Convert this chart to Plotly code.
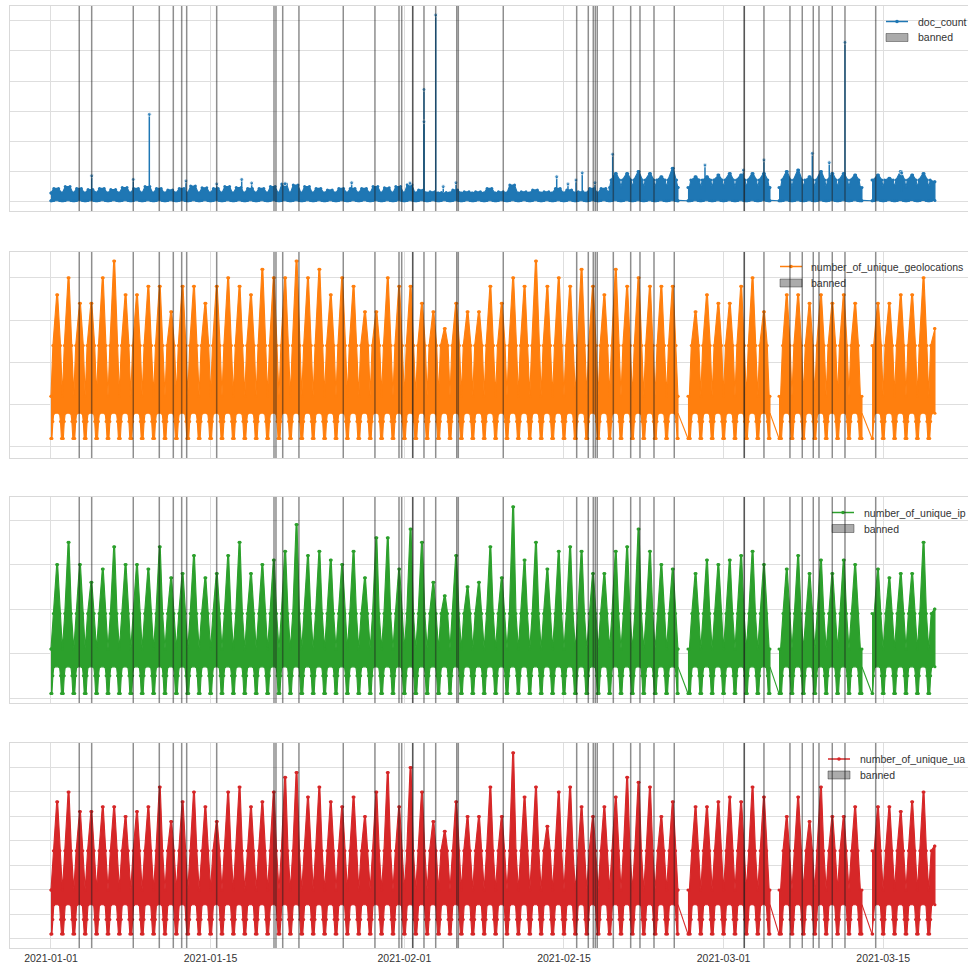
import plotly.graph_objects as go
from datetime import datetime, timedelta

T0 = datetime(2021, 1, 1)

# recording windows (the series has holes between them)
segments = [
    ("2021-01-01 00:00", "2021-02-25 00:00"),
    ("2021-02-25 21:00", "2021-03-05 01:40"),
    ("2021-03-05 20:40", "2021-03-13 03:20"),
    ("2021-03-14 00:30", "2021-03-19 13:00"),
]

# daily maxima, one value per day from 2021-01-01 (None = no data that day)
doc_peak = [42, 48, 42, 38, 42, 38, 45, 42, 48, 42, 37, 42, 50, 44, 42, 48, 45, 42, 42, 48, 57, 53, 48,
            42, 37, 42, 42, 42, 48, 44, 48, 54, 37, 31, 28, 37, 31, 31, 42, 31, 53, 31, 37, 31, 42, 37, 31,
            42, 42, 92, 92, 98, 92, 81, 109, None, 81, 81, 87, 92, 87, 92, 92, None,
            98, 103, 81, 98, 92, 92, 87, None, 87, 76, 98, 87, 92, 64]
geo_peak = [18, 20, 17, 17, 20, 22, 18, 18, 19, 19, 16, 19, 19, 17, 19, 20, 19, 18, 21, 20, 20, 22, 20,
            21, 18, 20, 19, 16, 16, 20, 19, 19, 17, 16, 14, 17, 16, 16, 19, 17, 20, 19, 22, 19, 20, 19,
            21, 19, 18, 21, 19, 20, 19, 19, 19, None, 16, 18, 17, 17, 19, 20, 16, None,
            18, 18, 17, 18, 17, 18, 17, None, 17, 17, 18, 18, 20, 14]
ip_peak = [30, 35, 30, 26, 29, 34, 30, 30, 29, 34, 27, 28, 32, 27, 28, 32, 35, 28, 30, 31, 33, 39, 32, 33,
           31, 30, 33, 27, 36, 36, 29, 38, 35, 26, 23, 32, 25, 26, 34, 27, 43, 31, 35, 29, 33, 34, 33, 28,
           28, 33, 34, 38, 33, 30, 29, None, 28, 31, 30, 31, 32, 33, 30, None,
           29, 32, 28, 31, 28, 31, 30, None, 29, 27, 28, 28, 35, 20]
ua_peak = [28, 30, 26, 26, 27, 27, 25, 26, 27, 31, 24, 28, 30, 27, 24, 30, 31, 27, 28, 30, 33, 34, 29, 31,
           28, 27, 29, 25, 30, 34, 27, 35, 30, 24, 22, 28, 25, 25, 31, 25, 38, 29, 31, 23, 30, 31, 27, 25,
           27, 29, 33, 32, 31, 25, 28, None, 27, 27, 28, 29, 28, 31, 29, None,
           25, 29, 24, 31, 25, 25, 27, None, 27, 27, 26, 28, 30, 19]

# typical levels of each series: floor between daily columns, width level of
# the daytime column (and the hours it is reached/left), lower edge of the
# band and the overnight dips
doc_levels = dict(top=27, shoulder=None, top_late=45, shoulder_late=70, late_from=49,
                  sh_hours=(3, 21), bottom=2, dip_hi=2, dip_lo=1)
geo_levels = dict(top=6, shoulder=12, sh_hours=(4, 20), bottom=4, dip_hi=3, dip_lo=1)
ip_levels = dict(top=11, shoulder=19, sh_hours=(5, 19), bottom=7, dip_hi=5, dip_lo=1)
ua_levels = dict(top=10, shoulder=18, sh_hours=(5, 19), bottom=7, dip_hi=4, dip_lo=1)

# isolated bursts in doc_count
doc_spike_time = ["2021-01-04 13:40", "2021-01-08 05:15", "2021-01-09 15:00", "2021-01-12 20:10",
                  "2021-01-15 13:00", "2021-01-17 17:30", "2021-01-18 14:30", "2021-01-21 12:40",
                  "2021-01-27 09:00", "2021-02-01 11:45", "2021-02-02 17:15", "2021-02-02 17:15",
                  "2021-02-03 18:00", "2021-02-04 09:50", "2021-02-05 12:40", "2021-02-14 08:40",
                  "2021-02-15 08:25", "2021-02-16 01:15", "2021-02-16 14:25", "2021-02-17 17:15",
                  "2021-02-19 06:30", "2021-02-27 08:50", "2021-03-02 17:30", "2021-03-04 13:00",
                  "2021-03-08 18:45", "2021-03-10 06:30", "2021-03-11 15:35", "2021-03-16 15:00"]
doc_spike_value = [84, 72, 289, 67, 57, 72, 60, 58, 61, 60, 372, 264, 620, 48, 61, 81,
                   57, 70, 94, 61, 156, 120, 103, 137, 159, 128, 529, 94]

# ban events
banned = ["2021-01-03 11:30", "2021-01-04 13:40", "2021-01-08 05:15", "2021-01-10 12:00",
          "2021-01-11 17:30", "2021-01-12 11:10", "2021-01-12 21:40", "2021-01-15 12:50",
          "2021-01-20 13:30", "2021-01-20 17:40", "2021-01-21 07:50", "2021-01-22 18:00",
          "2021-01-26 15:20", "2021-01-29 10:00", "2021-01-31 12:40", "2021-01-31 18:20",
          "2021-02-01 17:30", "2021-02-01 17:30", "2021-02-02 17:15", "2021-02-03 17:55",
          "2021-02-05 14:10", "2021-02-05 17:30", "2021-02-09 16:10", "2021-02-16 02:45",
          "2021-02-17 03:10", "2021-02-17 13:40", "2021-02-17 17:55", "2021-02-17 22:05",
          "2021-02-19 07:50", "2021-02-20 20:25", "2021-02-21 16:00", "2021-02-22 21:30",
          "2021-02-24 16:10", "2021-03-02 19:35", "2021-03-02 19:35", "2021-03-04 13:00",
          "2021-03-06 19:45", "2021-03-07 21:40", "2021-03-08 20:50", "2021-03-09 08:50",
          "2021-03-10 12:50", "2021-03-11 15:35", "2021-03-14 08:15"]

tick_dates = ["2021-01-01", "2021-01-15", "2021-02-01", "2021-02-15", "2021-03-01", "2021-03-15"]
x_range = ["2020-12-28 09:42", "2021-03-22 10:34"]

FONT = "Liberation Sans, Arial, sans-serif"
COLORS = ["#1f77b4", "#ff7f0e", "#2ca02c", "#d62728"]
NAMES = ["doc_count", "number_of_unique_geolocations", "number_of_unique_ip", "number_of_unique_ua"]
W, H = 968, 964


def at(day, hour):
    return T0 + timedelta(days=day, hours=hour)


def parse(s):
    return datetime.strptime(s, "%Y-%m-%d %H:%M")


def outline(peaks, lv):
    up, lo = [], []
    h0, h1 = lv["sh_hours"]
    for d, pk in enumerate(peaks):
        late = lv.get("late_from") is not None and d >= lv["late_from"]
        top = lv["top_late"] if late else lv["top"]
        sh = lv["shoulder_late"] if late else lv["shoulder"]
        up.append((at(d, 0), top))
        if pk is not None:
            if sh:
                pts = [(h0, sh), (12, pk), (14, pk), (h1, sh)]
            else:
                pts = [(6, pk), (16, pk), (22, top)]
            up += [(at(d, h), v) for h, v in pts]
        lo += [(at(d, h), v) for h, v in
               [(0, lv["dip_lo"]), (2, lv["dip_lo"]), (4, lv["dip_hi"]), (6, lv["bottom"]),
                (18, lv["bottom"]), (20, lv["dip_hi"]), (22, lv["dip_lo"])]]
    return up, lo


def polygons(up, lo, segs):
    xs, ys = [], []
    for s, e in segs:
        u = [p for p in up if s <= p[0] <= e]
        l = [p for p in lo if s <= p[0] <= e]
        pts = [(s, u[0][1])] + u + [(e, u[-1][1]), (e, l[-1][1])] + l[::-1] + [(s, l[0][1])]
        xs += [p[0] for p in pts] + [None]
        ys += [p[1] for p in pts] + [None]
    return xs, ys


segs = [(parse(s), parse(e)) for s, e in segments]
series = [(doc_peak, doc_levels), (geo_peak, geo_levels), (ip_peak, ip_levels), (ua_peak, ua_levels)]

# placement of the four stacked panels (paper fractions)
y_domains = [[0.78112, 0.99378], [0.52490, 0.73859], [0.27075, 0.48444], [0.01660, 0.22925]]
y_ranges = [[-33.3, 650], [-1.30, 23.05], [-1.12, 45.17], [-1.84, 40.0]]
y_dticks = [100, 5, 10, 5]
# legend boxes in pixels: handle start/end, text start, row 1 and row 2 centres
legend_px = [(886, 908, 917, 21.5, 37.5), (780, 802, 810, 266.5, 283),
             (832, 854, 862.5, 512.5, 528.5), (828, 850, 858.5, 759, 775)]

fig = go.Figure()
shapes, annotations = [], []

for i, ((peaks, lv), color, name) in enumerate(zip(series, COLORS, NAMES)):
    k = "" if i == 0 else str(i + 1)
    up, lo = outline(peaks, lv)
    xs, ys = polygons(up, lo, segs)
    fig.add_trace(go.Scatter(x=xs, y=ys, xaxis="x" + k, yaxis="y" + k, mode="lines+markers",
                             fill="toself", fillcolor=color, line=dict(color=color, width=1.1),
                             marker=dict(size=3, color=color), name=name, showlegend=False,
                             hoverinfo="skip"))
    # straight joins across the holes in the recording
    gx, gy = [], []
    for (s0, e0), (s1, e1) in zip(segs[:-1], segs[1:]):
        gx += [e0, s1, None]
        gy += [lv["bottom"], lv["dip_lo"], None]
    fig.add_trace(go.Scatter(x=gx, y=gy, xaxis="x" + k, yaxis="y" + k, mode="lines",
                             line=dict(color=color, width=1.1), showlegend=False, hoverinfo="skip"))
    if i == 0:
        sx, sy, ss = [], [], []
        for t, v in zip(doc_spike_time, doc_spike_value):
            sx += [parse(t), parse(t), None]
            sy += [30, v, None]
            ss += [0, 4, 0]
        fig.add_trace(go.Scatter(x=sx, y=sy, xaxis="x", yaxis="y", mode="lines+markers",
                                 line=dict(color=color, width=1.5),
                                 marker=dict(size=ss, color=color), showlegend=False,
                                 hoverinfo="skip"))

    fig.layout["xaxis" + k] = dict(
        domain=[10 / W, 1.0], anchor="y" + k, range=x_range, type="date",
        tickvals=tick_dates, ticktext=tick_dates, showticklabels=(i == 3),
        tickfont=dict(family=FONT, size=10.5, color="#333333"), ticks="", ticklen=0,
        showgrid=True, gridcolor="#dedede", gridwidth=1, zeroline=False,
        showline=True, mirror=True, linecolor="#d9d9d9", linewidth=1,
        **({} if i == 0 else {"matches": "x"}))
    fig.layout["yaxis" + k] = dict(
        domain=y_domains[i], anchor="x" + k, range=y_ranges[i], tick0=0, dtick=y_dticks[i],
        showticklabels=False, ticks="", showgrid=True, gridcolor="#dedede", gridwidth=1,
        zeroline=False, showline=True, mirror=False, linecolor="#d9d9d9", linewidth=1)

    # legend: line-with-marker handle, grey patch, labels
    a, b, tx, r1, r2 = legend_px[i]
    yr1, yr2 = 1 - r1 / H, 1 - r2 / H
    shapes.append(dict(type="line", xref="paper", yref="paper", x0=a / W, x1=b / W, y0=yr1, y1=yr1,
                       line=dict(color=color, width=1.5)))
    c = (a + b) / 2
    shapes.append(dict(type="circle", xref="paper", yref="paper", x0=(c - 1.8) / W,
                       x1=(c + 1.8) / W, y0=1 - (r1 + 1.8) / H, y1=1 - (r1 - 1.8) / H,
                       fillcolor=color, line=dict(width=0)))
    shapes.append(dict(type="rect", xref="paper", yref="paper", x0=a / W, x1=b / W,
                       y0=1 - (r2 + 4) / H, y1=1 - (r2 - 4) / H, fillcolor="rgba(0,0,0,0.33)",
                       line=dict(color="rgba(0,0,0,0.45)", width=0.8)))
    for txt, yy in ((name, yr1), ("banned", yr2)):
        annotations.append(dict(text=txt, x=tx / W, y=yy, xref="paper", yref="paper",
                                xanchor="left", yanchor="middle", showarrow=False, borderpad=0,
                                font=dict(family=FONT, size=10.5, color="#333333")))

for i in range(4):
    k = "" if i == 0 else str(i + 1)
    for t in banned:
        shapes.append(dict(type="line", xref="x" + k, yref="y" + k + " domain", x0=t, x1=t,
                           y0=0, y1=1, line=dict(color="rgba(30,30,30,0.5)", width=1.5),
                           layer="above"))

fig.update_layout(width=W, height=H, margin=dict(l=0, r=0, t=0, b=0), showlegend=False,
                  paper_bgcolor="white", plot_bgcolor="white", shapes=shapes,
                  annotations=annotations, font=dict(family=FONT, color="#333333"))

fig.write_html("out.html")
